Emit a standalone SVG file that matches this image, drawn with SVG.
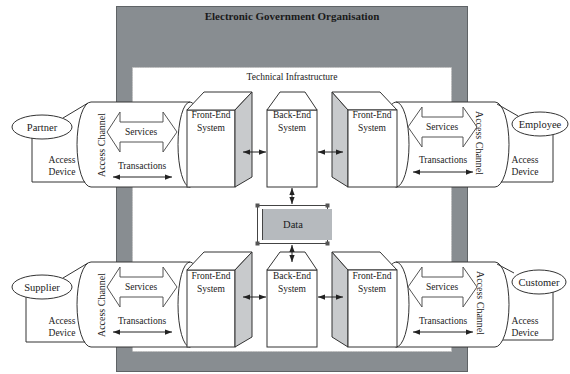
<svg xmlns="http://www.w3.org/2000/svg" width="570" height="374" viewBox="0 0 570 374">
  <defs>
    <marker id="ah" viewBox="0 0 8 6" refX="8" refY="3" markerWidth="7" markerHeight="5.5" markerUnits="userSpaceOnUse" orient="auto-start-reverse">
      <path d="M0,0 L8,3 L0,6 Z" fill="#222"/>
    </marker>
  </defs>
  <style>
    text { font-family: "Liberation Serif", "Times New Roman", serif; fill: #1a1a1a; }
    .ln { fill: none; stroke: #333; stroke-width: 1; }
    .w { fill: #fff; stroke: #333; stroke-width: 1; }
    .side { fill: #c8cacc; stroke: #333; stroke-width: 1; }
    .blk { fill: #fff; stroke: #555; stroke-width: 1; }
    .arr { fill: none; stroke: #222; stroke-width: 1; marker-start: url(#ah); marker-end: url(#ah); }
    .lbl { font-size: 9.5px; text-anchor: middle; }
    .ch { font-size: 10px; text-anchor: middle; }
    .who { font-size: 10.5px; text-anchor: middle; }
  </style>

  <rect width="570" height="374" fill="#fff"/>

  <!-- organisation frame -->
  <g id="organisation">
    <rect x="116.5" y="6.5" width="351" height="365" fill="#888d91" stroke="#5f6366"/>
    <text x="292" y="20" font-size="11" font-weight="bold" text-anchor="middle">Electronic Government Organisation</text>
  </g>

  <!-- technical infrastructure area -->
  <g id="infrastructure">
    <rect x="132.5" y="67.5" width="319" height="284" fill="#fff" stroke="#bdbdbd" stroke-dasharray="1.5 1"/>
    <text class="lbl" x="292" y="80">Technical Infrastructure</text>
  </g>

  <!-- Partner (top left) -->
  <g id="partner">
    <path class="w" d="M91 102 H190 A12 42.5 0 0 1 190 187 H91 A14 42.5 0 0 1 91 102 Z"/>
    <path class="ln" d="M190 102 A12 42.5 0 0 0 190 187"/>
    <path class="ln" d="M63 118 L88 103 M32 138 V182 H85"/>
    <ellipse class="w" cx="42" cy="127" rx="30" ry="12"/>
    <text class="who" x="42" y="130.5">Partner</text>
    <polygon class="blk" points="107,132 120,112 120,122 163,122 163,112 177,132 163,152 163,142 120,142 120,152"/>
    <text class="lbl" x="141" y="135">Services</text>
    <text class="lbl" x="142" y="169">Transactions</text>
    <path class="arr" d="M113 177 H172"/>
    <text class="ch" transform="translate(105,145) rotate(-90)">Access Channel</text>
    <text class="lbl" x="62" y="163">Access</text>
    <text class="lbl" x="62" y="175">Device</text>
  </g>

  <!-- Supplier (bottom left) -->
  <g id="supplier">
    <path class="w" d="M91 262 H190 A12 42.5 0 0 1 190 347 H91 A14 42.5 0 0 1 91 262 Z"/>
    <path class="ln" d="M190 262 A12 42.5 0 0 0 190 347"/>
    <path class="ln" d="M63 278 L88 263 M26 297 V342 H85"/>
    <ellipse class="w" cx="42" cy="287" rx="30" ry="12"/>
    <text class="who" x="42" y="290.5">Supplier</text>
    <polygon class="blk" points="107,287 120,267 120,277 163,277 163,267 177,287 163,307 163,297 120,297 120,307"/>
    <text class="lbl" x="141" y="290">Services</text>
    <text class="lbl" x="142" y="324">Transactions</text>
    <path class="arr" d="M113 332 H172"/>
    <text class="ch" transform="translate(105,305) rotate(-90)">Access Channel</text>
    <text class="lbl" x="62" y="324">Access</text>
    <text class="lbl" x="62" y="336">Device</text>
  </g>

  <!-- Employee (top right) -->
  <g id="employee">
    <path class="w" d="M396 102 H495 A14 42.5 0 0 1 495 187 H396 A13 42.5 0 0 1 396 102 Z"/>
    <path class="ln" d="M396 102 A13 42.5 0 0 1 396 187"/>
    <path class="ln" d="M497 104 L518 116 M553 135 V182 H501"/>
    <ellipse class="w" cx="540" cy="124" rx="28" ry="12"/>
    <text class="who" x="540" y="127.5">Employee</text>
    <polygon class="blk" points="408,127 422,107 422,117 463,117 463,107 477,127 463,147 463,137 422,137 422,147"/>
    <text class="lbl" x="442" y="130">Services</text>
    <text class="lbl" x="443" y="163">Transactions</text>
    <path class="arr" d="M413 172 H473"/>
    <text class="ch" transform="translate(476,143) rotate(90)">Access Channel</text>
    <text class="lbl" x="525" y="163">Access</text>
    <text class="lbl" x="525" y="175">Device</text>
  </g>

  <!-- Customer (bottom right) -->
  <g id="customer">
    <path class="w" d="M396 262 H495 A14 42.5 0 0 1 495 347 H396 A13 42.5 0 0 1 396 262 Z"/>
    <path class="ln" d="M396 262 A13 42.5 0 0 1 396 347"/>
    <path class="ln" d="M497 264 L514 273 M553 292 V340 H503"/>
    <ellipse class="w" cx="539" cy="282" rx="27" ry="12"/>
    <text class="who" x="539" y="285.5">Customer</text>
    <polygon class="blk" points="408,287 422,267 422,277 463,277 463,267 477,287 463,307 463,297 422,297 422,307"/>
    <text class="lbl" x="442" y="290">Services</text>
    <text class="lbl" x="443" y="324">Transactions</text>
    <path class="arr" d="M413 332 H473"/>
    <text class="ch" transform="translate(477,303) rotate(90)">Access Channel</text>
    <text class="lbl" x="525" y="324">Access</text>
    <text class="lbl" x="525" y="336">Device</text>
  </g>

  <!-- front-end / back-end systems, top row -->
  <g id="frontend-top-left">
    <rect class="w" x="187" y="110" width="48" height="77"/>
    <path class="w" d="M187 110 L204 92 H252 L235 110 Z"/>
    <path class="side" d="M235 110 L252 92 V177 L235 187 Z"/>
    <text class="lbl" x="211" y="118">Front-End</text>
    <text class="lbl" x="211" y="131">System</text>
  </g>
  <g id="backend-top">
    <rect class="w" x="267" y="110" width="50" height="77"/>
    <path class="w" d="M267 110 L280 92 H305 L317 110 Z"/>
    <text class="lbl" x="292" y="118">Back-End</text>
    <text class="lbl" x="292" y="131">System</text>
  </g>
  <g id="frontend-top-right">
    <path class="side" d="M332 92 L348 110 V187 L332 177 Z"/>
    <path class="w" d="M332 92 H380 L397 110 H348 Z"/>
    <rect class="w" x="348" y="110" width="49" height="77"/>
    <text class="lbl" x="372" y="118">Front-End</text>
    <text class="lbl" x="372" y="131">System</text>
  </g>

  <!-- front-end / back-end systems, bottom row -->
  <g id="frontend-bottom-left">
    <rect class="w" x="187" y="270" width="48" height="77"/>
    <path class="w" d="M187 270 L204 252 H252 L235 270 Z"/>
    <path class="side" d="M235 270 L252 252 V337 L235 347 Z"/>
    <text class="lbl" x="211" y="279">Front-End</text>
    <text class="lbl" x="211" y="292">System</text>
  </g>
  <g id="backend-bottom">
    <rect class="w" x="267" y="270" width="50" height="77"/>
    <path class="w" d="M267 270 L280 252 H305 L317 270 Z"/>
    <text class="lbl" x="292" y="279">Back-End</text>
    <text class="lbl" x="292" y="292">System</text>
  </g>
  <g id="frontend-bottom-right">
    <path class="side" d="M332 252 L348 270 V347 L332 337 Z"/>
    <path class="w" d="M332 252 H380 L397 270 H348 Z"/>
    <rect class="w" x="348" y="270" width="49" height="77"/>
    <text class="lbl" x="372" y="279">Front-End</text>
    <text class="lbl" x="372" y="292">System</text>
  </g>

  <!-- data store -->
  <g id="data">
    <rect x="257.5" y="205.5" width="70" height="38" fill="#fff" stroke="#444"/>
    <rect x="262" y="209" width="70" height="31" fill="#b6babe"/>
    <line x1="262.5" y1="209" x2="262.5" y2="240" stroke="#444"/>
    <g fill="#555">
      <rect x="255.5" y="203.5" width="4" height="4"/>
      <rect x="325.5" y="203.5" width="4" height="4"/>
      <rect x="255.5" y="241.5" width="4" height="4"/>
      <rect x="325.5" y="241.5" width="4" height="4"/>
    </g>
    <text x="293" y="228" font-size="10.5" text-anchor="middle">Data</text>
  </g>

  <!-- connectors -->
  <g id="connectors">
    <path class="arr" d="M243 152 H266"/>
    <path class="arr" d="M318 152 H343"/>
    <path class="arr" d="M243 297 H266"/>
    <path class="arr" d="M318 297 H343"/>
    <path class="arr" d="M292 188 V204"/>
    <path class="arr" d="M292 245 V262"/>
  </g>
</svg>
